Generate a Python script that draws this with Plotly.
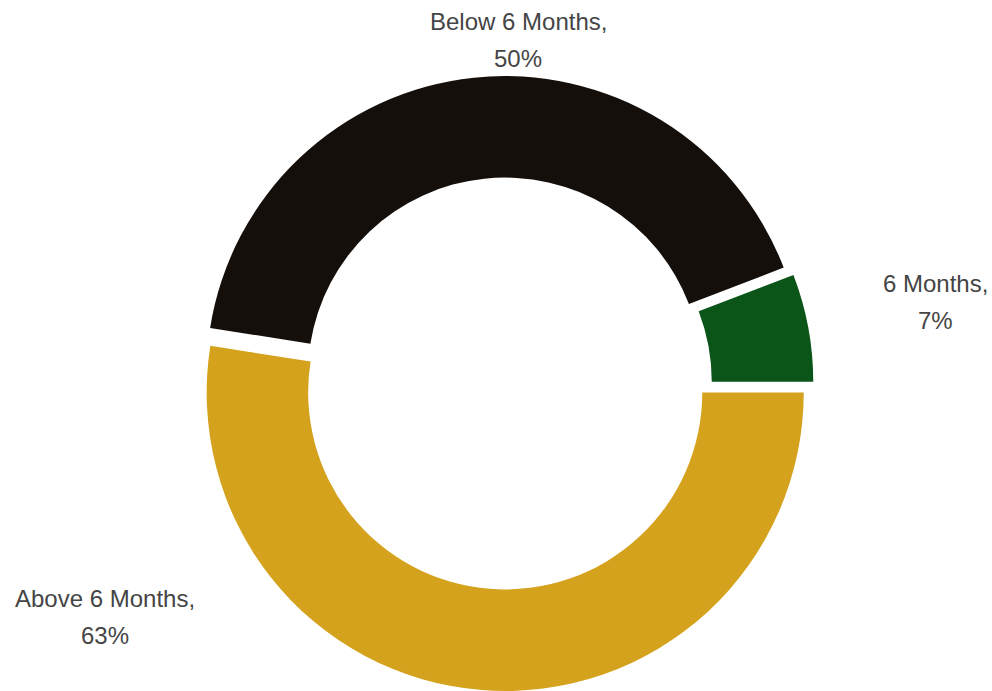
import plotly.graph_objects as go

# Share of respondents by duration
categories = ["Above 6 Months", "Below 6 Months", "6 Months"]
values = [63, 50, 7]
colors = ["#D4A21C", "#150F0B", "#0C5519"]

# Label anchor positions in paper coordinates (x, y of first line, y of second line)
label_pos = {
    "Below 6 Months": (518 / 992, 1 - 22 / 691, 1 - 58 / 691),
    "6 Months": (935 / 992, 1 - 283 / 691, 1 - 320 / 691),
    "Above 6 Months": (105 / 992, 1 - 598 / 691, 1 - 635 / 691),
}

fig = go.Figure(
    go.Pie(
        labels=categories,
        values=values,
        hole=0.66,
        sort=False,
        direction="clockwise",
        rotation=90,
        pull=[0.03, 0.03, 0.03],
        marker=dict(colors=colors, line=dict(width=0)),
        textinfo="none",
        hoverinfo="label+value",
        showlegend=False,
        domain=dict(x=[0.18, 0.84], y=[0.0, 0.89]),
    )
)

font = dict(family="Liberation Sans, Arial, sans-serif", size=24, color="#454545")
annotations = []
for name, val in zip(categories, values):
    x, y1, y2 = label_pos[name]
    annotations.append(dict(x=x, y=y1, xref="paper", yref="paper", text=f"{name},",
                            showarrow=False, font=font, xanchor="center", yanchor="middle"))
    annotations.append(dict(x=x, y=y2, xref="paper", yref="paper", text=f"{val}%",
                            showarrow=False, font=font, xanchor="center", yanchor="middle"))

fig.update_layout(
    width=992,
    height=691,
    margin=dict(l=0, r=0, t=0, b=0),
    paper_bgcolor="white",
    plot_bgcolor="white",
    annotations=annotations,
)

fig.write_html("out.html")
